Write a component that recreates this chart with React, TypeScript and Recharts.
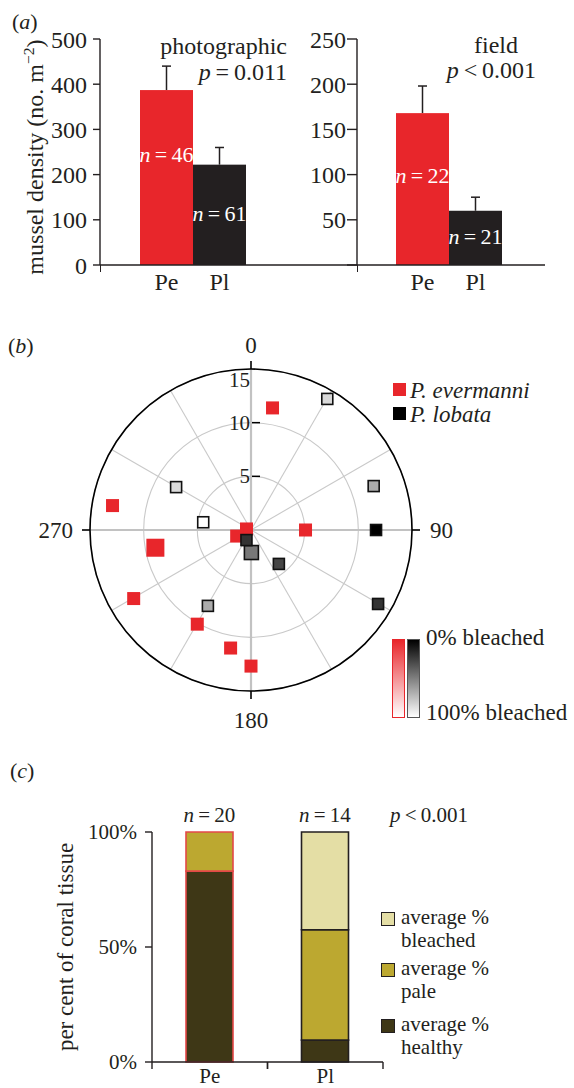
import React from 'react';
import {
  BarChart,
  Bar,
  XAxis,
  YAxis,
  Cell,
  LabelList,
  RadarChart,
  Radar,
  PolarGrid,
  PolarAngleAxis,
  PolarRadiusAxis,
} from 'recharts';

const FONT = '"Liberation Serif", "Times New Roman", serif';
const INK = '#231f20';
const RED = '#e8262b';
const PE_EDGE = '#e34848';
const HEALTHY = '#3e3716';
const PALE = '#bca830';
const BLEACHED = '#e4dea5';

// (a) mussel density, mean and upper SE
const species = ['Pe', 'Pl'];
const photoMean = [387, 222];
const photoSE = [53, 38];
const photoN = [46, 61];
const photoTicks = [0, 100, 200, 300, 400, 500];
const fieldMean = [168, 60];
const fieldSE = [30, 15];
const fieldN = [22, 21];
const fieldTicks = [0, 50, 100, 150, 200, 250];

// (b) polar positions: bearing (deg) and distance
const peAngle = [10, 280, 259.5, 239.7, 209.7, 189.8, 180, 90, 283, 247];
const peDist = [11.55, 13.1, 9.06, 12.66, 10.1, 11.16, 12.68, 5.08, 0.43, 1.45];
const plAngle = [30.2, 299.8, 279.2, 70.3, 90, 120.2, 140.6, 179, 204.2, 209.6];
const plDist = [14.13, 8.04, 4.51, 12.14, 11.65, 13.7, 4.09, 2.1, 1.03, 8.13];
const plBleach = [85, 86, 100, 67, 0, 20, 27, 47, 20, 67];
const spokeAngles = [0, 30, 60, 90, 120, 150, 180, 210, 240, 270, 300, 330];

// (c) tissue condition (%)
const healthy = [83, 9.5];
const pale = [17, 48];
const bleached = [0, 42.5];
const coverN = [20, 14];
const coverTicks = [0, 50, 100];

const photoRows = species.map((name, i) => ({ name, mean: photoMean[i], se: photoSE[i], n: photoN[i] }));
const fieldRows = species.map((name, i) => ({ name, mean: fieldMean[i], se: fieldSE[i], n: fieldN[i] }));
const polarRows = [
  ...peAngle.map((angle, i) => ({ angle, pe: peDist[i], id: i })),
  ...plAngle.map((angle, i) => ({ angle, pl: plDist[i], bleach: plBleach[i], id: i })),
];
const coverRows = species.map((name, i) => ({
  name,
  healthy: healthy[i],
  pale: pale[i],
  bleached: bleached[i],
  n: coverN[i],
}));

const BIG_PE = [2];
const BIG_PL = [7];

const Label = ({ x, y, size, anchor = 'start', rotate = false, color = INK, children }: any) => {
  const tx = anchor === 'start' ? '0' : anchor === 'middle' ? '-50%' : '-100%';
  return (
    <div
      style={{
        position: 'absolute',
        left: x,
        top: y,
        fontSize: size,
        lineHeight: 1,
        whiteSpace: 'nowrap',
        color,
        transform: `translate(${tx}, -50%)${rotate ? ' rotate(-90deg)' : ''}`,
      }}
    >
      {children}
    </div>
  );
};

const densityBar = (rise: number[]) => (props: any) => {
  const { x, y, width, height, payload } = props;
  const i = species.indexOf(payload.name);
  const cx = x + width / 2;
  const top = y - (payload.se * height) / payload.mean;
  const base = y + height;
  return (
    <g>
      <line x1={cx} y1={y} x2={cx} y2={top} stroke={INK} strokeWidth={1.5} />
      <line x1={cx - 4.5} y1={top} x2={cx + 4.5} y2={top} stroke={INK} strokeWidth={1.5} />
      <rect x={x} y={y} width={width} height={height} fill={i === 0 ? RED : INK} />
      <text
        x={cx}
        y={base - rise[i]}
        textAnchor="middle"
        dominantBaseline="central"
        fill="#fff"
        fontSize={22}
        fontFamily={FONT}
      >
        <tspan fontStyle="italic">n</tspan>
        {'\u2009=\u2009' + payload.n}
      </text>
    </g>
  );
};

const DensityChart = ({ rows, ticks, left, width, yWidth, padding, tickSize, tickMargin, rise, hideZero }: any) => (
  <div style={{ position: 'absolute', left, top: 0 }}>
    <BarChart
      width={width}
      height={300}
      data={rows}
      margin={{ top: 39, right: 0, bottom: 5, left: 0 }}
      barCategoryGap={0}
    >
      <YAxis
        width={yWidth}
        domain={[ticks[0], ticks[ticks.length - 1]]}
        ticks={ticks}
        tickSize={tickSize}
        tickMargin={tickMargin}
        tickFormatter={(v: number) => (hideZero && v === 0 ? '' : String(v))}
        tick={{ fontSize: 24, fill: INK, fontFamily: FONT }}
        axisLine={{ stroke: INK, strokeWidth: 1.4 }}
        tickLine={{ stroke: INK, strokeWidth: 1.4 }}
      />
      <XAxis
        dataKey="name"
        padding={padding}
        tickLine={false}
        height={30}
        tick={{ fontSize: 24, fill: INK, fontFamily: FONT }}
        axisLine={{ stroke: INK, strokeWidth: 1.4 }}
      />
      <Bar dataKey="mean" isAnimationActive={false} shape={densityBar(rise)} />
    </BarChart>
  </div>
);

const AngleTick = (props: any) => {
  const { x, y, payload } = props;
  const v = payload.value;
  if (v >= 360) return <g />;
  let dx = 0;
  let dy = 0;
  let anchor = 'middle';
  if (v === 0) dy = -16;
  else if (v === 180) dy = 21;
  else if (v === 90) {
    dx = 10;
    anchor = 'start';
  } else {
    dx = -9;
    anchor = 'end';
  }
  return (
    <text
      x={x + dx}
      y={y + dy}
      textAnchor={anchor}
      dominantBaseline="central"
      fontSize={23}
      fontFamily={FONT}
      fill={INK}
    >
      {v}
    </text>
  );
};

const RadiusTick = (props: any) => {
  const { x, y, payload } = props;
  const v = payload.value;
  if (v === 0) return <g />;
  const drop = v === 15 ? 11 : 0;
  return (
    <g>
      {v !== 15 && <line x1={x + 1} x2={x + 9} y1={y} y2={y} stroke="#000" strokeWidth={1.5} />}
      <text
        x={x - 1}
        y={y + drop}
        textAnchor="end"
        dominantBaseline="central"
        fontSize={21}
        fontFamily={FONT}
        fill={INK}
      >
        {v}
      </text>
    </g>
  );
};

const RadiusTickBottom = (props: any) => {
  const { x, y, payload } = props;
  const v = payload.value;
  if (v === 0 || v === 15) return <g />;
  return <line x1={x - 9} x2={x - 1} y1={y} y2={y} stroke="#000" strokeWidth={1.5} />;
};

const rowOf = (props: any) => {
  const p = props.payload;
  if (p && p.payload && typeof p.payload === 'object') return p.payload;
  return p;
};

const PeDot = (props: any) => {
  const { cx, cy, index } = props;
  const row = rowOf(props);
  if (!row || row.pe == null || !Number.isFinite(cx)) return <g key={`pe-${index}`} />;
  const s = BIG_PE.includes(row.id) ? 18 : 13;
  return <rect key={`pe-${index}`} x={cx - s / 2} y={cy - s / 2} width={s} height={s} fill={RED} />;
};

const PlDot = (props: any) => {
  const { cx, cy, index } = props;
  const row = rowOf(props);
  if (!row || row.pl == null || !Number.isFinite(cx)) return <g key={`pl-${index}`} />;
  const s = BIG_PL.includes(row.id) ? 14 : 11;
  const g = Math.round((255 * row.bleach) / 100);
  return (
    <rect
      key={`pl-${index}`}
      x={cx - s / 2}
      y={cy - s / 2}
      width={s}
      height={s}
      fill={`rgb(${g},${g},${g})`}
      stroke="#111"
      strokeWidth={1.6}
    />
  );
};

const CoverTick = (props: any) => {
  const { x, y, payload } = props;
  const half = payload.offset ?? 58;
  return (
    <g>
      <line x1={x - half} x2={x - half} y1={y - 8} y2={y - 1} stroke={INK} strokeWidth={1.4} />
      <line x1={x + half} x2={x + half} y1={y - 8} y2={y - 1} stroke={INK} strokeWidth={1.4} />
      <text x={x} y={y + 6} textAnchor="middle" dominantBaseline="central" fontSize={21} fontFamily={FONT} fill={INK}>
        {payload.value}
      </text>
    </g>
  );
};

// sits on the healthy (bottom) segment; climbs to the top of the full stack
const CoverN = (props: any) => {
  const { x, y, width, height, index, value } = props;
  const base = y + height;
  const total = healthy[index] + pale[index] + bleached[index];
  const top = base - (height * total) / healthy[index];
  return (
    <text
      x={x + width / 2}
      y={top - 17}
      textAnchor="middle"
      dominantBaseline="central"
      fontSize={21}
      fontFamily={FONT}
      fill={INK}
    >
      <tspan fontStyle="italic">n</tspan>
      {'\u2009=\u2009' + value}
    </text>
  );
};

const edgeCells = () =>
  coverRows.map((r, i) => <Cell key={r.name} stroke={i === 0 ? PE_EDGE : INK} strokeWidth={1.6} />);

const legendItems = [
  { color: BLEACHED, lines: ['average %', 'bleached'], top: 906 },
  { color: PALE, lines: ['average %', 'pale'], top: 957 },
  { color: HEALTHY, lines: ['average %', 'healthy'], top: 1013 },
];

export default function App() {
  return (
    <div
      style={{
        position: 'absolute',
        left: 0,
        top: 0,
        width: 574,
        height: 1088,
        background: '#fff',
        fontFamily: FONT,
        color: INK,
        overflow: 'hidden',
      }}
    >
      {/* (a) */}
      <DensityChart
        rows={photoRows}
        ticks={photoTicks}
        left={0}
        width={357}
        yWidth={100}
        padding={{ left: 40, right: 111 }}
        tickSize={7}
        tickMargin={6}
        rise={[111, 52]}
      />
      <DensityChart
        rows={fieldRows}
        ticks={fieldTicks}
        left={290}
        width={255}
        yWidth={67}
        padding={{ left: 39, right: 43 }}
        tickSize={10}
        tickMargin={1}
        rise={[90, 29]}
        hideZero
      />
      <div style={{ position: 'absolute', left: 99.5, top: 265, width: 1.4, height: 7, background: INK }} />
      <div style={{ position: 'absolute', left: 356.5, top: 265, width: 1.4, height: 7, background: INK }} />
      <Label x={12} y={22} size={22}>
        (<i>a</i>)
      </Label>
      <Label x={34} y={157} size={24} anchor="middle" rotate>
        mussel density (no. m<sup style={{ fontSize: '0.65em', verticalAlign: '0.55em' }}>−2</sup>)
      </Label>
      <Label x={287} y={46} size={24} anchor="end">
        photographic
      </Label>
      <Label x={287} y={72} size={24} anchor="end">
        <i>p</i>{'\u2009=\u20090.011'}
      </Label>
      <Label x={496} y={45} size={24} anchor="middle">
        field
      </Label>
      <Label x={536} y={70} size={24} anchor="end">
        <i>p</i>{'\u2009<\u20090.001'}
      </Label>

      {/* (b) */}
      <div style={{ position: 'absolute', left: 0, top: 320 }}>
        <RadarChart
          width={574}
          height={420}
          cx={251}
          cy={210}
          innerRadius={0}
          outerRadius={161}
          data={polarRows}
          margin={{ top: 0, right: 0, bottom: 0, left: 0 }}
        >
          <PolarGrid gridType="circle" polarAngles={spokeAngles} stroke="#c9c9c9" strokeWidth={1.1} />
          <PolarGrid
            gridType="circle"
            polarAngles={[0, 90, 180, 270]}
            polarRadius={[]}
            stroke="#c2c2c2"
            strokeWidth={2.2}
          />
          <PolarAngleAxis
            dataKey="angle"
            type="number"
            domain={[0, 360]}
            tickCount={5}
            axisLineType="circle"
            axisLine={{ stroke: '#000', strokeWidth: 1.6 }}
            tickLine={{ stroke: '#000', strokeWidth: 1.6 }}
            tickSize={8}
            tick={AngleTick}
          />
          <PolarRadiusAxis angle={90} domain={[0, 15]} tickCount={4} axisLine={false} tick={RadiusTick} />
          <PolarRadiusAxis
            radiusAxisId="bottom"
            angle={-90}
            domain={[0, 15]}
            tickCount={4}
            axisLine={false}
            tick={RadiusTickBottom}
          />
          <Radar dataKey="pe" stroke="none" fill="none" dot={PeDot} isAnimationActive={false} />
          <Radar dataKey="pl" stroke="none" fill="none" dot={PlDot} isAnimationActive={false} />
        </RadarChart>
      </div>
      <Label x={8} y={346} size={22}>
        (<i>b</i>)
      </Label>
      <div style={{ position: 'absolute', left: 393, top: 383, width: 13, height: 13, background: RED }} />
      <Label x={410} y={390} size={23}>
        <i>P. evermanni</i>
      </Label>
      <div style={{ position: 'absolute', left: 393, top: 407, width: 13, height: 13, background: '#000' }} />
      <Label x={410} y={414} size={23}>
        <i>P. lobata</i>
      </Label>
      <div
        style={{
          position: 'absolute',
          left: 392,
          top: 639,
          width: 11,
          height: 77,
          border: `1px solid ${RED}`,
          background: `linear-gradient(to bottom, ${RED}, #fff)`,
        }}
      />
      <div
        style={{
          position: 'absolute',
          left: 407,
          top: 639,
          width: 11,
          height: 77,
          border: '1px solid #555',
          background: 'linear-gradient(to bottom, #000, #fff)',
        }}
      />
      <Label x={426} y={637} size={23}>
        0% bleached
      </Label>
      <Label x={426} y={712} size={23}>
        100% bleached
      </Label>

      {/* (c) */}
      <Label x={10} y={771} size={22}>
        (<i>c</i>)
      </Label>
      <div style={{ position: 'absolute', left: 0, top: 800 }}>
        <BarChart
          width={574}
          height={288}
          data={coverRows}
          margin={{ top: 32, right: 191, bottom: 0, left: 0 }}
        >
          <YAxis
            width={152}
            domain={[0, 100]}
            ticks={coverTicks}
            tickSize={7}
            tickMargin={8}
            tickFormatter={(v: number) => `${v}%`}
            tick={{ fontSize: 21, fill: INK, fontFamily: FONT }}
            axisLine={{ stroke: INK, strokeWidth: 1.4 }}
            tickLine={{ stroke: INK, strokeWidth: 1.4 }}
          />
          <XAxis
            dataKey="name"
            height={26}
            tickLine={false}
            tick={CoverTick}
            axisLine={{ stroke: INK, strokeWidth: 1.4 }}
          />
          <Bar dataKey="healthy" stackId="s" fill={HEALTHY} barSize={47} isAnimationActive={false}>
            {edgeCells()}
            <LabelList dataKey="n" content={CoverN} />
          </Bar>
          <Bar dataKey="pale" stackId="s" fill={PALE} barSize={47} isAnimationActive={false}>
            {edgeCells()}
          </Bar>
          <Bar dataKey="bleached" stackId="s" fill={BLEACHED} barSize={47} isAnimationActive={false}>
            {edgeCells()}
          </Bar>
        </BarChart>
      </div>
      <Label x={65} y={947} size={23} anchor="middle" rotate>
        per cent of coral tissue
      </Label>
      <Label x={390} y={815} size={21}>
        <i>p</i>{'\u2009<\u20090.001'}
      </Label>
      {legendItems.map((item) => (
        <div key={item.lines[1]} style={{ position: 'absolute', left: 381, top: item.top }}>
          <div
            style={{
              position: 'absolute',
              left: 0,
              top: 6,
              width: 12,
              height: 12,
              background: item.color,
              border: `1.5px solid ${INK}`,
            }}
          />
          <div style={{ position: 'absolute', left: 20, top: 0, fontSize: 21, lineHeight: '23px', whiteSpace: 'nowrap' }}>
            {item.lines[0]}
            <br />
            {item.lines[1]}
          </div>
        </div>
      ))}
    </div>
  );
}
